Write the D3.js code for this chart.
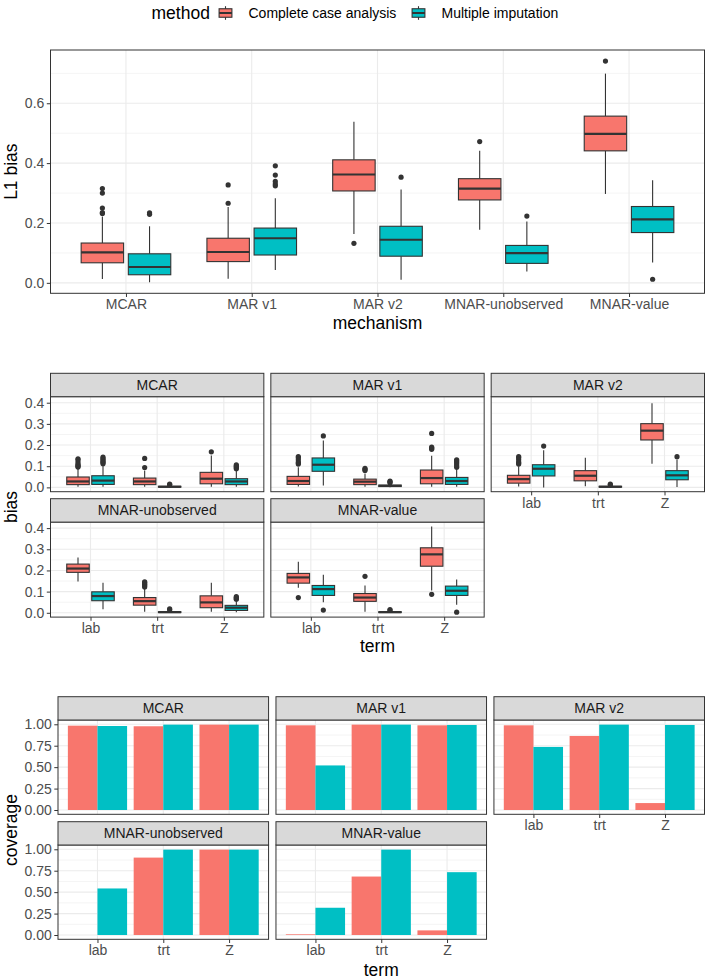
<!DOCTYPE html>
<html>
<head>
<meta charset="utf-8">
<script src="https://cdn.jsdelivr.net/npm/d3@7"></script>
<style>
  body { margin: 0; background: #fff; }
  svg text { font-family: "Liberation Sans", Arial, Helvetica, sans-serif; }
</style>
</head>
<body>
<div id="chart"></div>
<script>
const methods = ["Complete case analysis", "Multiple imputation"];
const colors = ["#F8766D", "#00BFC4"];
const mechanisms = ["MCAR", "MAR v1", "MAR v2", "MNAR-unobserved", "MNAR-value"];
const terms = ["lab", "trt", "Z"];

// L1 bias per mechanism: [lower whisker, q1, median, q3, upper whisker]
const l1Cca = [
  [0.013, 0.067, 0.102, 0.133, 0.222],
  [0.014, 0.071, 0.103, 0.149, 0.253],
  [0.163, 0.307, 0.362, 0.411, 0.538],
  [0.177, 0.277, 0.315, 0.348, 0.441],
  [0.297, 0.441, 0.498, 0.557, 0.699]
];
const l1CcaOut = [
  [0.232, 0.235, 0.25, 0.30, 0.315],
  [0.266, 0.327],
  [0.132],
  [0.472],
  [0.741]
];
const l1Mi = [
  [0.002, 0.027, 0.053, 0.097, 0.189],
  [0.043, 0.093, 0.149, 0.183, 0.283],
  [0.010, 0.089, 0.144, 0.189, 0.312],
  [0.038, 0.065, 0.099, 0.125, 0.205],
  [0.068, 0.168, 0.212, 0.255, 0.343]
];
const l1MiOut = [
  [0.229, 0.234],
  [0.324, 0.330, 0.339, 0.360, 0.391],
  [0.353],
  [0.223],
  [0.012]
];

// bias per mechanism and term (lab, trt, Z)
const biasCca = [
  [[0.003, 0.013, 0.028, 0.049, 0.088], [0.003, 0.013, 0.028, 0.044, 0.080], [0.003, 0.017, 0.041, 0.071, 0.151]],
  [[0.004, 0.014, 0.030, 0.052, 0.095], [0.003, 0.013, 0.027, 0.039, 0.065], [0.003, 0.017, 0.044, 0.082, 0.150]],
  [[0.004, 0.020, 0.039, 0.057, 0.100], [0.005, 0.031, 0.055, 0.079, 0.140], [0.112, 0.224, 0.268, 0.301, 0.397]],
  [[0.148, 0.191, 0.209, 0.230, 0.261], [0.005, 0.036, 0.055, 0.072, 0.115], [0.005, 0.024, 0.049, 0.080, 0.142]],
  [[0.118, 0.140, 0.167, 0.186, 0.241], [0.005, 0.054, 0.072, 0.091, 0.129], [0.105, 0.220, 0.276, 0.307, 0.408]]
];
const biasCcaOut = [
  [[0.096, 0.10, 0.105, 0.11, 0.12, 0.13, 0.135], [0.094, 0.137], [0.168]],
  [[0.11, 0.115, 0.12, 0.13, 0.14, 0.146], [0.08, 0.085, 0.09], [0.18, 0.185, 0.19, 0.255]],
  [[0.11, 0.115, 0.12, 0.13, 0.14, 0.145], [], []],
  [[], [0.122, 0.128, 0.135, 0.142, 0.146], []],
  [[0.072], [0.172], [0.087]]
];
const biasMi = [
  [[0.003, 0.014, 0.032, 0.055, 0.108], [0.000, 0.001, 0.003, 0.005, 0.009], [0.003, 0.013, 0.028, 0.041, 0.080]],
  [[0.009, 0.076, 0.107, 0.139, 0.222], [0.001, 0.004, 0.007, 0.011, 0.020], [0.003, 0.014, 0.030, 0.047, 0.088]],
  [[0.000, 0.054, 0.088, 0.107, 0.175], [0.000, 0.001, 0.003, 0.005, 0.009], [0.002, 0.036, 0.057, 0.079, 0.132]],
  [[0.017, 0.057, 0.079, 0.099, 0.142], [0.000, 0.001, 0.003, 0.005, 0.010], [0.003, 0.011, 0.024, 0.035, 0.061]],
  [[0.050, 0.082, 0.112, 0.129, 0.180], [0.000, 0.001, 0.003, 0.005, 0.009], [0.038, 0.082, 0.104, 0.126, 0.157]]
];
const biasMiOut = [
  [[0.112, 0.118, 0.124, 0.13, 0.137, 0.143], [0.012, 0.015], [0.088, 0.093, 0.098, 0.102, 0.107]],
  [[0.243], [0.022, 0.026, 0.03], [0.095, 0.102, 0.11, 0.118, 0.125, 0.13]],
  [[0.195], [0.012, 0.015], [0.145]],
  [[], [0.014, 0.018], [0.064, 0.068, 0.072, 0.076]],
  [[0.013], [0.011, 0.015], [0.003]]
];

// coverage per mechanism and term (lab, trt, Z)
const coverageCca = [
  [0.984, 0.977, 0.996],
  [0.988, 0.996, 0.988],
  [0.988, 0.864, 0.081],
  [0.000, 0.903, 0.996],
  [0.008, 0.682, 0.054]
];
const coverageMi = [
  [0.980, 0.996, 0.996],
  [0.520, 0.996, 0.992],
  [0.736, 0.996, 0.992],
  [0.543, 0.996, 0.996],
  [0.318, 0.996, 0.733]
];

const l1Ticks = [0, 0.2, 0.4, 0.6];
const biasTicks = [0, 0.1, 0.2, 0.3, 0.4];
const coverageTicks = [0, 0.25, 0.5, 0.75, 1];

const width = 709, height = 980;
const tickCol = "#4D4D4D", lineCol = "#333333", gridCol = "#EBEBEB";

const svg = d3.select("#chart").append("svg")
  .attr("width", width)
  .attr("height", height);

// expand a data extent by 5% on each side (ggplot style)
function expand(vals) {
  const [lo, hi] = d3.extent(vals);
  const pad = (hi - lo) * 0.05;
  return [lo - pad, hi + pad];
}

function minorTicks(ticks) {
  const step = ticks[1] - ticks[0];
  const out = ticks.map(t => t - step / 2);
  out.push(ticks[ticks.length - 1] + step / 2);
  return out;
}

// background, grid and border of one panel
function panelFrame(g, x, y, ticks, x0, x1, y0, y1) {
  g.append("rect").attr("x", x0).attr("y", y0)
    .attr("width", x1 - x0).attr("height", y1 - y0).attr("fill", "#fff");
  const dom = y.domain();
  g.selectAll(".minor").data(minorTicks(ticks).filter(t => t > dom[0] && t < dom[1]))
    .join("line")
    .attr("x1", x0).attr("x2", x1)
    .attr("y1", d => y(d)).attr("y2", d => y(d))
    .attr("stroke", gridCol).attr("stroke-width", 0.55);
  g.selectAll(".major").data(ticks)
    .join("line")
    .attr("x1", x0).attr("x2", x1)
    .attr("y1", d => y(d)).attr("y2", d => y(d))
    .attr("stroke", gridCol).attr("stroke-width", 1.1);
  g.selectAll(".vmajor").data(x.domain())
    .join("line")
    .attr("x1", d => x(d)).attr("x2", d => x(d))
    .attr("y1", y0).attr("y2", y1)
    .attr("stroke", gridCol).attr("stroke-width", 1.1);
}

function panelBorder(g, x0, x1, y0, y1) {
  g.append("rect").attr("x", x0).attr("y", y0)
    .attr("width", x1 - x0).attr("height", y1 - y0)
    .attr("fill", "none").attr("stroke", lineCol).attr("stroke-width", 1);
}

function styleAxis(ax) {
  ax.select(".domain").remove();
  ax.selectAll(".tick line").attr("stroke", lineCol).attr("stroke-width", 1);
  ax.selectAll(".tick text").attr("fill", tickCol).attr("font-size", 14)
    .attr("font-family", "Liberation Sans, Arial, sans-serif");
}

function yAxis(x0, y, ticks, fmt) {
  const ax = svg.append("g").attr("transform", `translate(${x0},0)`)
    .call(d3.axisLeft(y).tickValues(ticks).tickFormat(d3.format(fmt)).tickSize(3.7).tickPadding(2.5));
  styleAxis(ax);
}

function xAxis(y1, x) {
  const ax = svg.append("g").attr("transform", `translate(0,${y1})`)
    .call(d3.axisBottom(x).tickSize(3.7).tickPadding(2.3));
  styleAxis(ax);
}

// boxplots of two methods at each category
function boxes(g, x, y, cats, statsByMethod, outByMethod) {
  const step = x.step();
  const boxW = step * 0.3375;
  methods.forEach((m, mi) => {
    const off = (mi === 0 ? -1 : 1) * step * 0.1875;
    const rows = cats.map((c, i) => ({ c, s: statsByMethod[mi][i], o: outByMethod[mi][i] }));
    const bg = g.append("g");
    const b = bg.selectAll("g").data(rows).join("g")
      .attr("transform", d => `translate(${x(d.c) + off},0)`);
    b.append("line").attr("x1", 0).attr("x2", 0)
      .attr("y1", d => y(d.s[0])).attr("y2", d => y(d.s[1]))
      .attr("stroke", lineCol).attr("stroke-width", 1.1);
    b.append("line").attr("x1", 0).attr("x2", 0)
      .attr("y1", d => y(d.s[3])).attr("y2", d => y(d.s[4]))
      .attr("stroke", lineCol).attr("stroke-width", 1.1);
    b.append("rect")
      .attr("x", -boxW / 2).attr("width", boxW)
      .attr("y", d => y(d.s[3]))
      .attr("height", d => Math.max(0.5, y(d.s[1]) - y(d.s[3])))
      .attr("fill", colors[mi]).attr("stroke", lineCol).attr("stroke-width", 1.1);
    b.append("line").attr("x1", -boxW / 2).attr("x2", boxW / 2)
      .attr("y1", d => y(d.s[2])).attr("y2", d => y(d.s[2]))
      .attr("stroke", lineCol).attr("stroke-width", 2.2);
    b.selectAll("circle").data(d => d.o).join("circle")
      .attr("cx", 0).attr("cy", d => y(d)).attr("r", 2.6)
      .attr("fill", lineCol);
  });
}

function bars(g, x, y, cats, valsByMethod) {
  const step = x.step();
  const barW = step * 0.45;
  methods.forEach((m, mi) => {
    g.append("g").selectAll("rect").data(cats.map((c, i) => ({ c, v: valsByMethod[mi][i] })))
      .join("rect")
      .attr("x", d => x(d.c) + (mi === 0 ? -barW : 0))
      .attr("width", barW)
      .attr("y", d => y(d.v))
      .attr("height", d => y(0) - y(d.v))
      .attr("fill", colors[mi]);
  });
}

function axisTitle(text, x, y, rotate) {
  svg.append("text")
    .attr("transform", `translate(${x},${y})` + (rotate ? " rotate(-90)" : ""))
    .attr("text-anchor", "middle")
    .attr("font-size", 17.5)
    .attr("fill", "#000")
    .attr("dy", rotate ? "0.36em" : null)
    .text(text);
}

// ---------- legend ----------
const legend = svg.append("g");
legend.append("text").attr("x", 151.5).attr("y", 18.5)
  .attr("font-size", 17.5).attr("fill", "#000").text("method");
const legendX = [217, 410];
methods.forEach((m, i) => {
  const k = legend.append("g").attr("transform", `translate(${legendX[i]},4.5)`);
  k.append("line").attr("x1", 8.5).attr("x2", 8.5).attr("y1", 1.7).attr("y2", 15.3)
    .attr("stroke", lineCol).attr("stroke-width", 1.1);
  k.append("rect").attr("x", 2.1).attr("y", 4.25).attr("width", 12.8).attr("height", 8.5)
    .attr("fill", colors[i]).attr("stroke", lineCol).attr("stroke-width", 1.1);
  k.append("line").attr("x1", 2.1).attr("x2", 14.9).attr("y1", 8.5).attr("y2", 8.5)
    .attr("stroke", lineCol).attr("stroke-width", 2);
  legend.append("text").attr("x", legendX[i] + 31.5).attr("y", 18)
    .attr("font-size", 14).attr("fill", "#000").text(m);
});

// ---------- top panel: L1 bias by mechanism ----------
{
  const x0 = 50.5, x1 = 704.5, y0 = 50, y1 = 293.3;
  const allVals = l1Cca.flat().concat(l1Mi.flat(), l1CcaOut.flat(), l1MiOut.flat());
  const y = d3.scaleLinear().domain(expand(allVals)).range([y1, y0]);
  const x = d3.scalePoint().domain(mechanisms).range([x0, x1]).padding(0.6);
  const g = svg.append("g");
  panelFrame(g, x, y, l1Ticks, x0, x1, y0, y1);
  boxes(g, x, y, mechanisms, [l1Cca, l1Mi], [l1CcaOut, l1MiOut]);
  panelBorder(g, x0, x1, y0, y1);
  yAxis(x0, y, l1Ticks, ".1f");
  xAxis(y1, x);
  axisTitle("L1 bias", 11, (y0 + y1) / 2, true);
  axisTitle("mechanism", (x0 + x1) / 2, 328.5, false);
}

// ---------- facet helper ----------
function facets(opts) {
  const { left, right, top, stripH, panelH, gap, ticks, fmt, domain, draw, title, titleY, xTitleY } = opts;
  const panelW = (right - left - 2 * gap) / 3;
  const y0s = [top + stripH, top + stripH + panelH + gap + stripH];
  mechanisms.forEach((mech, i) => {
    const row = Math.floor(i / 3), col = i % 3;
    const px0 = left + col * (panelW + gap), px1 = px0 + panelW;
    const py0 = y0s[row], py1 = py0 + panelH;
    const sy0 = py0 - stripH;
    const y = d3.scaleLinear().domain(domain).range([py1, py0]);
    const x = d3.scalePoint().domain(terms).range([px0, px1]).padding(0.6);
    const g = svg.append("g");
    panelFrame(g, x, y, ticks, px0, px1, py0, py1);
    draw(g, x, y, i);
    panelBorder(g, px0, px1, py0, py1);
    g.append("rect").attr("x", px0).attr("y", sy0)
      .attr("width", panelW).attr("height", stripH)
      .attr("fill", "#D9D9D9").attr("stroke", lineCol).attr("stroke-width", 1);
    g.append("text").attr("x", (px0 + px1) / 2).attr("y", sy0 + stripH / 2)
      .attr("dy", "0.36em").attr("text-anchor", "middle")
      .attr("font-size", 14).attr("fill", "#1A1A1A").text(mech);
    if (col === 0) yAxis(px0, y, ticks, fmt);
    if (row === 1 || col === 2) xAxis(py1, x);
  });
  axisTitle(title, 11, titleY, true);
  axisTitle("term", (left + right) / 2, xTitleY, false);
}

// ---------- middle: bias by term ----------
{
  const allVals = [biasCca, biasMi, biasCcaOut, biasMiOut].map(a => a.flat(2)).flat();
  facets({
    left: 50.5, right: 704.5, top: 373.3, stripH: 23.4, panelH: 95, gap: 7,
    ticks: biasTicks, fmt: ".1f", domain: expand(allVals),
    title: "bias", titleY: 507, xTitleY: 651.5,
    draw: (g, x, y, i) => boxes(g, x, y, terms,
      [biasCca[i], biasMi[i]], [biasCcaOut[i], biasMiOut[i]])
  });
}

// ---------- bottom: coverage by term ----------
facets({
  left: 58, right: 704.5, top: 696.7, stripH: 23.3, panelH: 94.3, gap: 7.4,
  ticks: coverageTicks, fmt: ".2f", domain: expand([0, 1]),
  title: "coverage", titleY: 830, xTitleY: 976,
  draw: (g, x, y, i) => bars(g, x, y, terms, [coverageCca[i], coverageMi[i]])
});
</script>
</body>
</html>
